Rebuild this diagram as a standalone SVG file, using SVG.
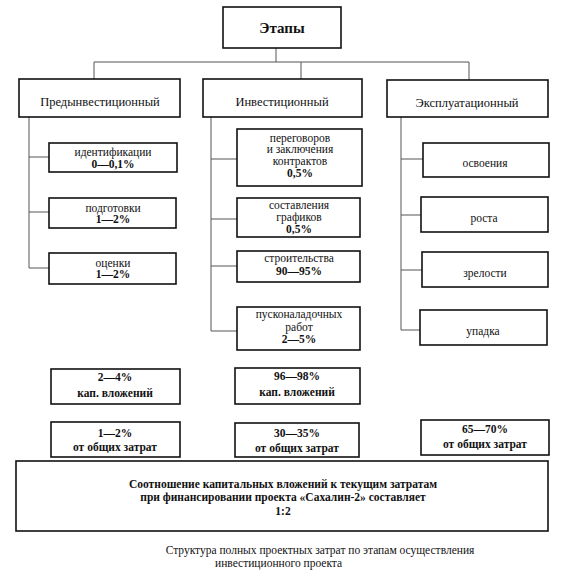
<svg xmlns="http://www.w3.org/2000/svg" width="579" height="588" viewBox="0 0 579 588">
<style>
.bx{fill:#fff;stroke:#111;stroke-width:1.6}
.cn{fill:none;stroke:#555;stroke-width:1}
text{fill:#111;text-anchor:middle}
.t{font-size:11.5px}
.b{font-size:11.5px;font-weight:bold}
.h{font-size:12.5px}
.s{font-size:11.5px;font-weight:bold}
</style>
<rect width="579" height="588" fill="#fff"/>
<g font-family="'Liberation Serif','DejaVu Serif','Noto Serif',serif">
<g id="connectors">
<path class="cn" d="M276,48V62M94,62H469M94,62V79M301,62V79M469,62V80"/>
<path class="cn" d="M29,117V268M29,157H49M29,212H49M29,268H49"/>
<path class="cn" d="M211,117V331M211,159H237M211,219H237M211,266H237M211,331H237"/>
<path class="cn" d="M401,117V330M401,159H423M401,215H421M401,270H422M401,330H420"/>
</g>
<g id="etapy"><rect class="bx" x="223" y="7" width="118" height="41"/><text x="282" y="33" style="font-size:15px;font-weight:bold">Этапы</text></g>
<g id="pre"><rect class="bx" x="19" y="79" width="161" height="38"/><text class="h" x="100" y="106">Предынвестиционный</text></g>
<g id="inv"><rect class="bx" x="203" y="79" width="159" height="38"/><text class="h" x="282" y="106">Инвестиционный</text></g>
<g id="exp"><rect class="bx" x="387" y="80" width="161" height="37"/><text class="h" x="467" y="107">Эксплуатационный</text></g>
<g id="ident"><rect class="bx" x="49" y="143" width="128" height="29"/><text class="t" x="113" y="156">идентификации</text><text class="b" x="113" y="168">0—0,1%</text></g>
<g id="podg"><rect class="bx" x="49" y="198" width="127" height="30"/><text class="t" x="113" y="212">подготовки</text><text class="b" x="113" y="223">1—2%</text></g>
<g id="ocen"><rect class="bx" x="49" y="253" width="127" height="31"/><text class="t" x="113" y="267">оценки</text><text class="b" x="113" y="278">1—2%</text></g>
<g id="pereg"><rect class="bx" x="237" y="129" width="125" height="57"/><text class="t" x="300" y="142">переговоров</text><text class="t" x="300" y="153">и заключения</text><text class="t" x="300" y="165">контрактов</text><text class="b" x="300" y="177">0,5%</text></g>
<g id="sost"><rect class="bx" x="237" y="198" width="123" height="39"/><text class="t" x="299" y="209">составления</text><text class="t" x="299" y="221">графиков</text><text class="b" x="299" y="233">0,5%</text></g>
<g id="stroi"><rect class="bx" x="237" y="251" width="123" height="31"/><text class="t" x="299" y="262">строительства</text><text class="b" x="299" y="275">90—95%</text></g>
<g id="pusk"><rect class="bx" x="237" y="307" width="123" height="43"/><text class="t" x="299" y="318">пусконаладочных</text><text class="t" x="299" y="331">работ</text><text class="b" x="299" y="343">2—5%</text></g>
<g id="osv"><rect class="bx" x="423" y="143" width="126" height="34"/><text class="t" x="485" y="167">освоения</text></g>
<g id="rost"><rect class="bx" x="421" y="197" width="127" height="35"/><text class="t" x="484" y="222">роста</text></g>
<g id="zrel"><rect class="bx" x="422" y="252" width="126" height="35"/><text class="t" x="485" y="277">зрелости</text></g>
<g id="upad"><rect class="bx" x="420" y="310" width="127" height="35"/><text class="t" x="483" y="335">упадка</text></g>
<g id="kap1"><rect class="bx" x="51" y="369" width="129" height="35"/><text class="b" x="115" y="381">2—4%</text><text class="b" x="115" y="397">кап. вложений</text></g>
<g id="kap2"><rect class="bx" x="235" y="368" width="125" height="36"/><text class="b" x="297" y="380">96—98%</text><text class="b" x="297" y="396">кап. вложений</text></g>
<g id="obsh1"><rect class="bx" x="51" y="422" width="129" height="35"/><text class="b" x="115" y="437">1—2%</text><text class="b" x="115" y="451">от общих затрат</text></g>
<g id="obsh2"><rect class="bx" x="235" y="423" width="124" height="34"/><text class="b" x="297" y="437">30—35%</text><text class="b" x="297" y="452">от общих затрат</text></g>
<g id="obsh3"><rect class="bx" x="421" y="420" width="128" height="35"/><text class="b" x="485" y="433">65—70%</text><text class="b" x="485" y="448">от общих затрат</text></g>
<g id="sootn"><rect class="bx" x="16" y="461" width="532" height="70"/><text class="s" x="283" y="488">Соотношение капитальных вложений к текущим затратам</text><text class="s" x="283" y="501">при финансировании проекта «Сахалин-2» составляет</text><text class="s" x="283" y="515">1:2</text></g>
<g id="caption"><text class="t" x="320" y="554">Структура полных проектных затрат по этапам осуществления</text><text class="t" x="215" y="567" style="text-anchor:start">инвестиционного проекта</text></g>
</g>
</svg>
